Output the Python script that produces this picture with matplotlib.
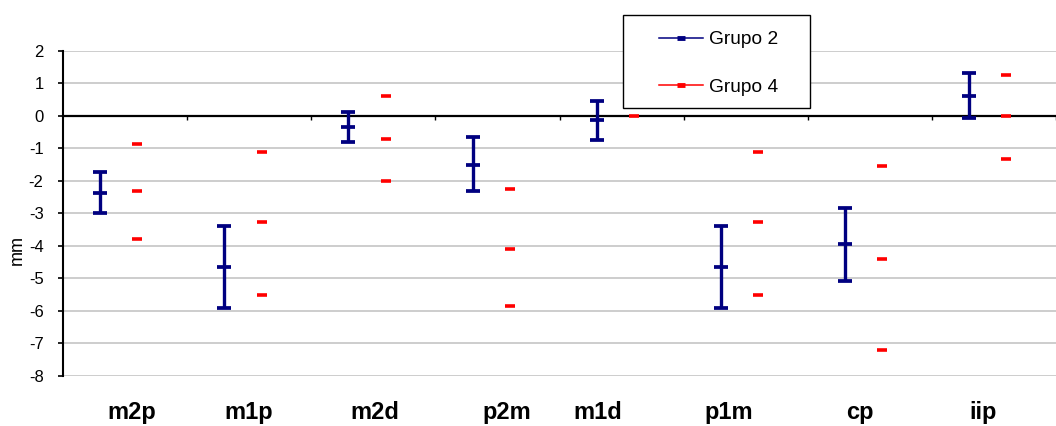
import numpy as np
import matplotlib
matplotlib.use("Agg")
import matplotlib.pyplot as plt
from matplotlib.lines import Line2D
from matplotlib.patches import Rectangle
from matplotlib.transforms import blended_transform_factory

# ---- data ----
categories = ['m2p', 'm1p', 'm2d', 'p2m', 'm1d', 'p1m', 'cp', 'iip']
g2_high = [-1.74, -3.39, 0.10, -0.65, 0.44, -3.39, -2.85, 1.30]
g2_mid = [-2.38, -4.66, -0.36, -1.51, -0.13, -4.66, -3.96, 0.62]
g2_low = [-2.98, -5.93, -0.82, -2.31, -0.74, -5.93, -5.08, -0.07]
g4_high = [-0.87, -1.11, 0.62, -2.25, -0.02, -1.12, -1.56, 1.24]
g4_mid = [-2.31, -3.27, -0.71, -4.09, np.nan, -3.28, -4.42, -0.02]
g4_low = [-3.80, -5.52, -2.00, -5.86, np.nan, -5.52, -7.22, -1.34]
yticks = list(range(-8, 3))
series_names = ['Grupo 2', 'Grupo 4']

# ---- layout / style ----
W, H = 1056, 426
navy = '#000080'
red = '#ff0000'
plt.rcParams['font.family'] = ['Liberation Sans', 'DejaVu Sans']

fig = plt.figure(figsize=(W / 100, H / 100), dpi=100)
ax_left, ax_top, ax_bottom = 63, 50.7, 375.7
ax = fig.add_axes([ax_left / W, (H - ax_bottom) / H, (W - ax_left) / W, (ax_bottom - ax_top) / H])

x = np.arange(len(categories))
blue_off, red_off = -0.2, 0.1
xb = x + blue_off
xr = x + red_off

# Grupo 2: high-low bars with caps and mid tick
ax.vlines(xb, g2_low, g2_high, color=navy, lw=2.4, zorder=4)
for arr in (g2_high, g2_mid, g2_low):
    ax.plot(xb, arr, ls='none', marker='_', ms=9.5, mew=2.7, color=navy, zorder=5)

# Grupo 4: dashes
for arr in (g4_high, g4_mid, g4_low):
    ax.plot(xr, arr, ls='none', marker='_', ms=7.2, mew=2.6, color=red, zorder=5)

ax.set_xlim(-0.5, -0.5 + (W - ax_left) / 125)
ax.set_ylim(-8, 2)
ax.set_yticks(yticks)
ax.set_yticklabels([str(t) for t in yticks], fontsize=12)
ax.yaxis.grid(True, color='#c0c0c0', lw=1.1)
ax.set_axisbelow(True)

for s in ('top', 'right'):
    ax.spines[s].set_visible(False)
ax.spines['left'].set_linewidth(1.5)
ax.spines['left'].set_color('black')
ax.spines['bottom'].set_position(('data', 0))
ax.spines['bottom'].set_linewidth(1.6)
ax.spines['bottom'].set_zorder(3)

ax.set_xticks(np.arange(len(categories)) + 0.5)
ax.set_xticklabels([])
ax.tick_params(axis='x', direction='out', length=3, width=1, color='black')
ax.tick_params(axis='y', direction='out', length=3.5, width=1.2, pad=10.5, color='black')

# category labels below plot
label_dx = [0.056, 0.0, 0.012, 0.072, -0.19, -0.136, -0.08, -0.088]
trans = blended_transform_factory(ax.transData, ax.transAxes)
label_y = (ax_bottom - 419) / (ax_bottom - ax_top)
for xi, lab, dx in zip(x, categories, label_dx):
    ax.text(xi + dx, label_y, lab, transform=trans, ha='center', va='baseline',
            fontsize=17, fontweight='bold', clip_on=False)

# y label
fig.text(17 / W, 1 - 250 / H, 'mm', rotation=90, ha='center', va='center', fontsize=13)

# legend
handles = [Line2D([], [], color=navy, lw=1.1, marker='_', ms=6, mew=3.5),
           Line2D([], [], color=red, lw=1.1, marker='_', ms=6, mew=3.5)]
fig.legend(handles, series_names, loc='upper left',
           bbox_to_anchor=(659 / W, 1 - 31 / H), frameon=False, borderpad=0,
           borderaxespad=0, handlelength=2.3, handletextpad=0.3,
           labelspacing=1.55, fontsize=13.8, numpoints=1)
fig.patches.append(Rectangle((623 / W, 1 - 108 / H), (810 - 623) / W, (108 - 15) / H,
                             transform=fig.transFigure, fill=True, facecolor='white',
                             edgecolor='black', lw=1.0, zorder=0))

fig.savefig('out.png', dpi=100)
